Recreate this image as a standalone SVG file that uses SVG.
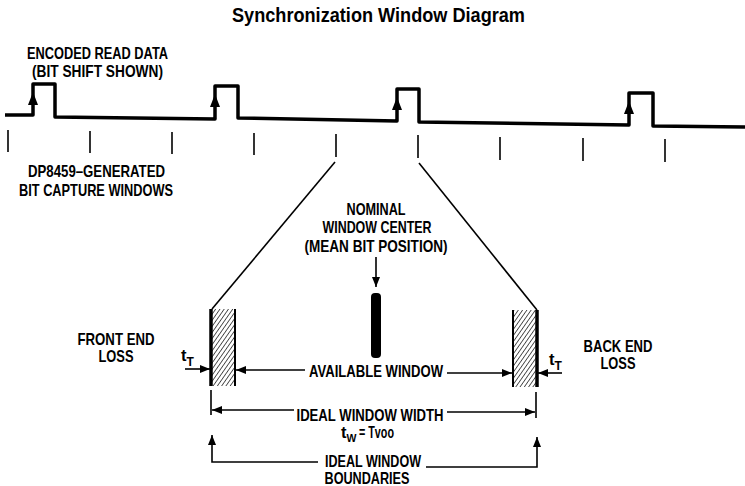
<svg xmlns="http://www.w3.org/2000/svg" width="745" height="486" viewBox="0 0 745 486">
<defs>
<style>
.t{font-family:"Liberation Sans",Arial,sans-serif;font-weight:bold;font-size:16.5px;fill:#000}
.title{font-family:"Liberation Sans",Arial,sans-serif;font-weight:bold;font-size:20px;fill:#000}
.wave{fill:none;stroke:#000;stroke-width:3.5;stroke-linejoin:round}
.tick{stroke:#000;stroke-width:1.6}
.ln{stroke:#000;stroke-width:1.6;fill:none}
.ah{fill:#000}
</style>
<marker id="arr" viewBox="0 0 10 8" refX="10" refY="4" markerWidth="10" markerHeight="8" markerUnits="userSpaceOnUse" orient="auto">
<path d="M0,0 L10,4 L0,8 Z" fill="#000"/>
</marker>
<pattern id="hatch" patternUnits="userSpaceOnUse" width="3.5" height="4" patternTransform="rotate(35)">
<line x1="0" y1="0" x2="0" y2="4" stroke="#000" stroke-width="1.3"/>
</pattern>
</defs>
<rect width="745" height="486" fill="#fff"/>
<text class="title" x="232" y="22" textLength="293" lengthAdjust="spacingAndGlyphs">Synchronization Window Diagram</text>

<g id="waveform">
<path class="wave" d="M5,115 L33,115 L33,84 L55,84 L55,117 L215,119 L215,86 L238,86 L238,118 L397,121 L397,89 L419,89 L419,122 L629,125 L629,93 L653,93 L653,126 L745,127"/>
<path class="ah" d="M33,92 L28,105 L38,105 Z"/>
<path class="ah" d="M215,94 L210,107 L220,107 Z"/>
<path class="ah" d="M397,97 L392,110 L402,110 Z"/>
<path class="ah" d="M629,101 L624,114 L634,114 Z"/>
</g>

<g id="ticks">
<line class="tick" x1="8" y1="130" x2="8" y2="152"/>
<line class="tick" x1="90" y1="131" x2="90" y2="153"/>
<line class="tick" x1="172" y1="132" x2="172" y2="154"/>
<line class="tick" x1="254" y1="133" x2="254" y2="155"/>
<line class="tick" x1="336" y1="134" x2="336" y2="157"/>
<line class="tick" x1="418" y1="135" x2="418" y2="158"/>
<line class="tick" x1="500" y1="137" x2="500" y2="160"/>
<line class="tick" x1="583" y1="138" x2="583" y2="161"/>
<line class="tick" x1="665" y1="139" x2="665" y2="162"/>
</g>

<g id="label-encoded">
<text class="t" x="97.5" y="59" text-anchor="middle" textLength="141" lengthAdjust="spacingAndGlyphs">ENCODED READ DATA</text>
<text class="t" x="97.5" y="77" text-anchor="middle" textLength="131" lengthAdjust="spacingAndGlyphs">(BIT SHIFT SHOWN)</text>
</g>
<g id="label-windows">
<text class="t" x="96.5" y="177" text-anchor="middle" textLength="137" lengthAdjust="spacingAndGlyphs">DP8459–GENERATED</text>
<text class="t" x="96" y="196" text-anchor="middle" textLength="154" lengthAdjust="spacingAndGlyphs">BIT CAPTURE WINDOWS</text>
</g>

<g id="connectors">
<line class="ln" x1="335" y1="162" x2="212" y2="309"/>
<line class="ln" x1="419" y1="163" x2="537" y2="310"/>
<line class="ln" x1="376" y1="257" x2="376" y2="287" marker-end="url(#arr)"/>
<line class="ln" x1="185" y1="369" x2="210" y2="369" marker-end="url(#arr)"/>
<line class="ln" x1="305" y1="370" x2="236" y2="370" marker-end="url(#arr)"/>
<line class="ln" x1="447" y1="373" x2="512" y2="373" marker-end="url(#arr)"/>
<line class="ln" x1="562" y1="373" x2="538" y2="373" marker-end="url(#arr)"/>
<line class="ln" x1="211" y1="390" x2="211" y2="415"/>
<line class="ln" x1="536" y1="392" x2="536" y2="418"/>
<line class="ln" x1="294" y1="410" x2="212" y2="410" marker-end="url(#arr)"/>
<line class="ln" x1="447" y1="412" x2="535" y2="412" marker-end="url(#arr)"/>
<path class="ln" d="M318,462 L212,462 L212,435" marker-end="url(#arr)"/>
<path class="ln" d="M426,467 L537,467 L537,437" marker-end="url(#arr)"/>
</g>

<g id="nominal-center">
<text class="t" x="376" y="215" text-anchor="middle" textLength="59" lengthAdjust="spacingAndGlyphs">NOMINAL</text>
<text class="t" x="377" y="233" text-anchor="middle" textLength="109" lengthAdjust="spacingAndGlyphs">WINDOW CENTER</text>
<text class="t" x="376" y="252" text-anchor="middle" textLength="143" lengthAdjust="spacingAndGlyphs">(MEAN BIT POSITION)</text>
<rect x="371" y="293" width="10" height="65" rx="4" fill="#000"/>
</g>

<g id="front-bar">
<rect x="211" y="309" width="24" height="77" fill="url(#hatch)"/>
<line x1="211" y1="309" x2="211" y2="386" stroke="#000" stroke-width="3.5"/>
<line x1="235" y1="309" x2="235" y2="386" stroke="#000" stroke-width="2"/>
</g>
<g id="back-bar">
<rect x="513" y="310" width="24" height="77" fill="url(#hatch)"/>
<line x1="513" y1="310" x2="513" y2="387" stroke="#000" stroke-width="2"/>
<line x1="537" y1="310" x2="537" y2="387" stroke="#000" stroke-width="3.5"/>
</g>

<g id="front-loss">
<text class="t" x="116" y="345" text-anchor="middle" textLength="77" lengthAdjust="spacingAndGlyphs">FRONT END</text>
<text class="t" x="116" y="362" text-anchor="middle" textLength="35" lengthAdjust="spacingAndGlyphs">LOSS</text>
<text class="t" x="181" y="361">t<tspan font-size="12" dy="5">T</tspan></text>
</g>
<g id="back-loss">
<text class="t" x="618" y="352" text-anchor="middle" textLength="69" lengthAdjust="spacingAndGlyphs">BACK END</text>
<text class="t" x="618" y="369" text-anchor="middle" textLength="35" lengthAdjust="spacingAndGlyphs">LOSS</text>
<text class="t" x="549" y="365">t<tspan font-size="12" dy="5">T</tspan></text>
</g>

<g id="available-window">
<text class="t" x="376" y="377" text-anchor="middle" textLength="134" lengthAdjust="spacingAndGlyphs">AVAILABLE WINDOW</text>
</g>
<g id="ideal-width">
<text class="t" x="370" y="421" text-anchor="middle" textLength="147" lengthAdjust="spacingAndGlyphs">IDEAL WINDOW WIDTH</text>
<text class="t" x="341" y="438">t<tspan font-size="10.5" dy="4">W</tspan></text>
<text class="t" x="359" y="438" textLength="35" lengthAdjust="spacingAndGlyphs">= Tvoo</text>
</g>
<g id="ideal-boundaries">
<text class="t" x="373" y="467" text-anchor="middle" textLength="96" lengthAdjust="spacingAndGlyphs">IDEAL WINDOW</text>
<text class="t" x="367" y="484" text-anchor="middle" textLength="85" lengthAdjust="spacingAndGlyphs">BOUNDARIES</text>
</g>
</svg>
